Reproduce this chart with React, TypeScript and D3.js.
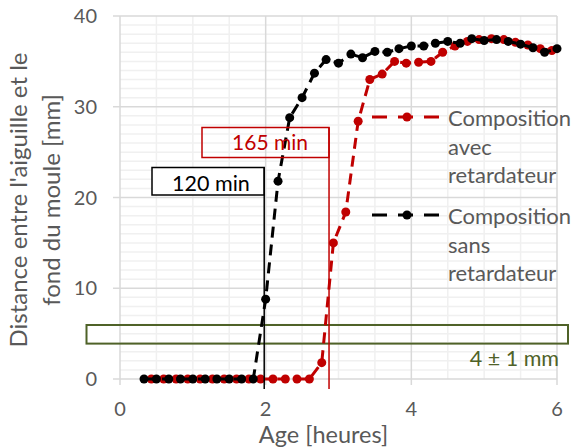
import React from "react";
import * as d3 from "d3";

const blackX = [0.33, 0.5, 0.67, 0.83, 1.0, 1.17, 1.33, 1.5, 1.67, 1.83, 2.0, 2.17, 2.33, 2.5, 2.67, 2.83, 3.0, 3.17, 3.33, 3.5, 3.67, 3.83, 4.0, 4.17, 4.33, 4.5, 4.67, 4.83, 5.0, 5.17, 5.33, 5.5, 5.67, 5.83, 6.0];
const blackY = [0, 0, 0, 0, 0, 0, 0, 0, 0, 0, 8.8, 21.8, 28.8, 31.0, 33.7, 35.2, 34.8, 35.8, 35.4, 36.1, 36.0, 36.4, 36.7, 36.7, 37.0, 37.2, 37.0, 37.5, 37.3, 37.4, 37.2, 36.9, 36.5, 36.0, 36.4];

const redX = [0.43, 0.6, 0.77, 0.93, 1.1, 1.27, 1.43, 1.6, 1.77, 1.93, 2.1, 2.27, 2.43, 2.6, 2.77, 2.93, 3.1, 3.27, 3.43, 3.6, 3.77, 3.93, 4.1, 4.27, 4.43, 4.6, 4.77, 4.93, 5.1, 5.27, 5.43, 5.6, 5.77, 5.93];
const redY = [0, 0, 0, 0, 0, 0, 0, 0, 0, 0, 0, 0, 0, 0, 1.8, 15.0, 18.4, 28.4, 33.0, 33.6, 35.0, 34.8, 34.9, 35.0, 36.0, 36.7, 37.2, 37.4, 37.5, 37.4, 37.1, 36.8, 36.4, 36.2];

const xTicks = [0, 2, 4, 6];
const yTicks = [0, 10, 20, 30, 40];
const seriesNames = [["Composition", "avec", "retardateur"], ["Composition", "sans", "retardateur"]];
const markerTimes = [1.98, 2.87];
const markerLabels = ["120 min", "165 min"];
const bandLow = 3.9;
const bandHigh = 5.95;
const bandLabel = "4 ± 1 mm";

const FONT = "Lato, 'Open Sans', sans-serif";
const TXT = "#595959";
const RED = "#c00000";
const GREEN = "#4f6228";

export default function App() {
  const x = d3.scaleLinear().domain([0, 6]).range([120, 557]);
  const y = d3.scaleLinear().domain([0, 40]).range([379, 16]);

  const minorX = d3.range(0, 6.001, 0.5).filter((v) => Math.abs(v % 2) > 1e-6);
  const minorY = d3.range(0, 40.001, 1).filter((v) => Math.abs(v % 10) > 1e-6);

  const line = d3.line<[number, number]>().x((d) => x(d[0])).y((d) => y(d[1]));
  const red: [number, number][] = redX.map((v, i) => [v, redY[i]]);
  const black: [number, number][] = blackX.map((v, i) => [v, blackY[i]]);

  const dash = "11,7";
  const series = [
    { data: red, color: RED },
    { data: black, color: "#000" },
  ];

  const legendY = [117, 215];

  return (
    <svg width={574} height={448} style={{ position: "absolute", left: 0, top: 0, background: "#fff" }} fontFamily={FONT}>
      {/* minor grid */}
      {minorX.map((v) => (
        <line key={"mx" + v} x1={x(v)} x2={x(v)} y1={y(40)} y2={y(0)} stroke="#f0f0f0" strokeWidth={1.5} />
      ))}
      {minorY.map((v) => (
        <line key={"my" + v} x1={x(0)} x2={x(6)} y1={y(v)} y2={y(v)} stroke="#f0f0f0" strokeWidth={1.5} />
      ))}
      {/* major grid */}
      {xTicks.map((v) => (
        <line key={"Mx" + v} x1={x(v)} x2={x(v)} y1={y(40)} y2={y(0) + 6} stroke="#d9d9d9" strokeWidth={1.5} />
      ))}
      {yTicks.map((v) => (
        <line key={"My" + v} x1={x(0) - 7} x2={x(6)} y1={y(v)} y2={y(v)} stroke="#d9d9d9" strokeWidth={1.5} />
      ))}

      {/* tick labels */}
      {yTicks.map((v) => (
        <text key={"yl" + v} x={97} y={y(v)} dy="0.36em" textAnchor="end" fontSize={20} fill={TXT}>
          {v}
        </text>
      ))}
      {xTicks.map((v) => (
        <text key={"xl" + v} x={x(v)} y={409} dy="0.36em" textAnchor="middle" fontSize={20} fill={TXT}>
          {v}
        </text>
      ))}

      {/* axis titles */}
      <text x={323.5} y={443} textAnchor="middle" fontSize={23.5} fill={TXT}>
        Age [heures]
      </text>
      <g transform="translate(27,200) rotate(-90)">
        <text x={0} y={0} textAnchor="middle" fontSize={24} fill={TXT}>
          Distance entre l'aiguille et le
        </text>
        <text x={0} y={32.5} textAnchor="middle" fontSize={24} fill={TXT}>
          fond du moule [mm]
        </text>
      </g>

      {/* green band */}
      <rect x={86.5} y={y(bandHigh)} width={568 - 86.5} height={y(bandLow) - y(bandHigh)} fill="none" stroke={GREEN} strokeWidth={2} />
      <text x={559} y={366} textAnchor="end" fontSize={21.5} fill={GREEN}>
        {bandLabel}
      </text>

      {/* series */}
      {series.map((s, i) => (
        <g key={"s" + i}>
          <path d={line(s.data) || ""} fill="none" stroke={s.color} strokeWidth={3} strokeDasharray={dash} />
          {s.data.map((d, j) => (
            <circle key={j} cx={x(d[0])} cy={y(d[1])} r={4.5} fill={s.color} />
          ))}
        </g>
      ))}

      {/* annotation boxes and lines */}
      <rect x={152} y={167.5} width={x(markerTimes[0]) - 152} height={27.5} fill="#fff" stroke="#000" strokeWidth={1.5} />
      <line x1={x(markerTimes[0])} x2={x(markerTimes[0])} y1={167.5} y2={389} stroke="#000" strokeWidth={1.5} />
      <text x={211} y={190.5} textAnchor="middle" fontSize={21.5} fill="#000">
        {markerLabels[0]}
      </text>

      <rect x={202} y={127.5} width={x(markerTimes[1]) - 202} height={30} fill="none" stroke={RED} strokeWidth={1.5} />
      <line x1={x(markerTimes[1])} x2={x(markerTimes[1])} y1={127.5} y2={389} stroke={RED} strokeWidth={1.5} />
      <text x={270} y={150} textAnchor="middle" fontSize={21} fill={RED}>
        {markerLabels[1]}
      </text>

      {/* legend */}
      {series.map((s, i) => (
        <g key={"lg" + i}>
          <line x1={372} x2={442} y1={legendY[i]} y2={legendY[i]} stroke={s.color} strokeWidth={3} strokeDasharray="15,11" />
          <circle cx={407} cy={legendY[i]} r={4.5} fill={s.color} />
          {seriesNames[i].map((t, k) => (
            <text key={k} x={448} y={legendY[i] + 9 + k * 28.7} fontSize={22} fill={TXT}>
              {t}
            </text>
          ))}
        </g>
      ))}
    </svg>
  );
}
